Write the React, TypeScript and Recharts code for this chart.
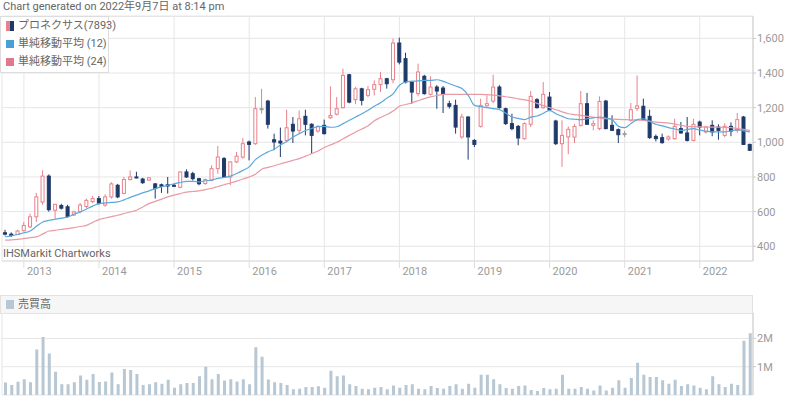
import React from 'react'
import { ComposedChart, Bar, Line, XAxis, YAxis, CartesianGrid } from 'recharts'

// monthly candles, Oct 2012 .. Sep 2022
const months: string[] = []
for (let k = 0; k < 120; k++) {
  const t = 2012 * 12 + 9 + k
  months.push(`${Math.floor(t / 12)}-${String((t % 12) + 1).padStart(2, '0')}`)
}

const yearTicks = ['2013-01', '2014-01', '2015-01', '2016-01', '2017-01', '2018-01', '2019-01', '2020-01', '2021-01', '2022-01']
const yearLabels = ['2013', '2014', '2015', '2016', '2017', '2018', '2019', '2020', '2021', '2022']
const priceTicks = [400, 600, 800, 1000, 1200, 1400, 1600]
const volTicks = [1000000, 2000000]

const open = [
  478, 470, 468, 490, 512, 570, 655, 805, 608, 635, 628, 580, 600, 630, 658, 675, 638, 685, 752, 705,
  785, 800, 788, 782, 760, 755, 755, 752, 740, 829, 819, 790, 762, 781, 848, 906, 800, 887, 915, 1002,
  992, 1194, 1238, 1015, 1007, 1011, 1104, 1069, 1150, 1104, 1065, 1098, 1142, 1162, 1200, 1390, 1246, 1309, 1271, 1306,
  1333, 1367, 1361, 1573, 1483, 1348, 1281, 1381, 1277, 1319, 1313, 1223, 1213, 1031, 1146, 1011, 1092, 1211, 1238, 1319,
  1194, 1108, 1092, 1021, 1104, 1246, 1200, 1261, 1123, 992, 1031, 1030, 1098, 1223, 1098, 1079, 1238, 1098, 1073, 1050,
  1127, 1196, 1208, 1150, 1034, 1027, 1019, 1021, 1079, 1054, 1011, 1117, 1060, 1098, 1088, 1040, 1092, 1069, 1146, 988,
]
const high = [
  495, 480, 495, 540, 588, 708, 838, 815, 645, 645, 640, 605, 650, 675, 690, 690, 700, 770, 760, 800,
  838, 830, 795, 800, 765, 762, 800, 760, 832, 844, 830, 795, 790, 867, 979, 915, 890, 944, 1025, 1010,
  1261, 1309, 1245, 1050, 1085, 1188, 1146, 1184, 1188, 1110, 1100, 1131, 1323, 1261, 1425, 1395, 1320, 1315, 1325, 1358,
  1405, 1372, 1598, 1604, 1517, 1355, 1454, 1390, 1381, 1330, 1325, 1240, 1246, 1165, 1150, 1018, 1252, 1271, 1390, 1330,
  1200, 1165, 1100, 1115, 1296, 1255, 1348, 1290, 1130, 1127, 1092, 1105, 1296, 1285, 1127, 1265, 1245, 1156, 1080, 1065,
  1227, 1386, 1252, 1188, 1045, 1050, 1040, 1136, 1117, 1146, 1136, 1125, 1095, 1127, 1104, 1110, 1115, 1169, 1152, 992,
]
const low = [
  462, 455, 465, 485, 505, 540, 640, 600, 556, 612, 565, 575, 590, 620, 650, 640, 628, 675, 678, 700,
  780, 792, 760, 778, 675, 708, 704, 745, 735, 795, 780, 752, 755, 775, 819, 795, 752, 880, 905, 896,
  985, 1165, 1079, 954, 915, 1000, 996, 1050, 1040, 935, 1055, 1045, 1135, 1155, 1195, 1225, 1220, 1213, 1260, 1270,
  1290, 1310, 1340, 1450, 1340, 1223, 1265, 1275, 1270, 1194, 1169, 1195, 1050, 1020, 900, 973, 1085, 1205, 1225, 1195,
  1100, 1070, 983, 1015, 1088, 1195, 1195, 1180, 985, 858, 931, 996, 1090, 1100, 1069, 1070, 1075, 1065, 996, 1030,
  1120, 1181, 1125, 1020, 1005, 992, 1010, 1015, 1050, 1005, 1005, 1040, 1050, 1035, 1015, 1030, 1035, 1055, 985, 950,
]
const close = [
  470, 462, 488, 520, 570, 685, 805, 611, 642, 620, 572, 598, 638, 665, 675, 648, 685, 760, 685, 785,
  800, 796, 767, 795, 733, 745, 748, 748, 829, 800, 790, 761, 785, 848, 915, 800, 887, 920, 992, 988,
  1194, 1194, 1104, 1002, 996, 1084, 1065, 1136, 1104, 1040, 1092, 1050, 1155, 1194, 1386, 1232, 1309, 1242, 1304, 1333,
  1367, 1338, 1573, 1463, 1348, 1290, 1406, 1281, 1319, 1296, 1281, 1208, 1088, 1146, 1031, 988, 1213, 1223, 1319, 1200,
  1108, 1079, 1025, 1108, 1265, 1200, 1277, 1188, 992, 1040, 1075, 1092, 1223, 1104, 1108, 1236, 1079, 1069, 1044, 1050,
  1188, 1210, 1131, 1027, 1021, 998, 1031, 1092, 1054, 1011, 1104, 1088, 1088, 1060, 1069, 1092, 1065, 1131, 988, 954,
]
const ma12 = [
  455, 460, 468, 478, 488, 515, 540, 550, 556, 562, 569, 585, 598, 615, 632, 646, 650, 653, 656, 668,
  682, 695, 708, 720, 733, 743, 752, 761, 768, 775, 775, 772, 778, 782, 792, 797, 805, 820, 838, 858,
  900, 925, 945, 960, 985, 1005, 1030, 1050, 1068, 1080, 1090, 1092, 1087, 1090, 1108, 1127, 1146, 1165, 1185, 1208,
  1228, 1255, 1280, 1329, 1348, 1352, 1355, 1357, 1358, 1361, 1352, 1338, 1325, 1310, 1271, 1213, 1206, 1200, 1194, 1188,
  1168, 1146, 1138, 1131, 1145, 1152, 1168, 1184, 1165, 1150, 1136, 1133, 1131, 1136, 1141, 1146, 1140, 1131, 1092, 1085,
  1108, 1131, 1136, 1120, 1104, 1095, 1085, 1077, 1069, 1074, 1079, 1070, 1065, 1060, 1060, 1060, 1066, 1073, 1066, 1060,
]
const ma24 = [
  435, 437, 440, 444, 450, 454, 470, 488, 492, 497, 502, 508, 514, 521, 538, 554, 563, 571, 579, 589,
  598, 608, 627, 646, 659, 672, 685, 695, 704, 713, 716, 720, 727, 735, 745, 755, 765, 776, 788, 800,
  816, 845, 855, 865, 876, 886, 896, 906, 920, 935, 950, 970, 985, 1000, 1020, 1040, 1060, 1077, 1095, 1125,
  1143, 1160, 1180, 1208, 1218, 1228, 1240, 1252, 1262, 1270, 1277, 1277, 1277, 1277, 1277, 1277, 1277, 1275, 1272, 1268,
  1263, 1258, 1251, 1245, 1238, 1225, 1212, 1200, 1188, 1176, 1165, 1160, 1156, 1150, 1145, 1140, 1136, 1134, 1132, 1131,
  1130, 1128, 1127, 1122, 1117, 1114, 1111, 1105, 1098, 1092, 1090, 1089, 1088, 1088, 1087, 1086, 1085, 1080, 1075, 1069,
]
// volume, millions of shares
const volume = [
  0.44, 0.35, 0.47, 0.56, 0.45, 1.61, 2.05, 1.47, 0.82, 0.38, 0.38, 0.45, 0.69, 0.54, 0.74, 0.46, 0.48, 0.8, 0.38, 0.92,
  0.88, 0.74, 0.35, 0.38, 0.45, 0.4, 0.54, 0.26, 0.38, 0.42, 0.42, 0.66, 1.0, 0.56, 0.74, 0.51, 0.56, 0.48, 0.56, 0.38,
  1.69, 1.35, 0.55, 0.45, 0.42, 0.35, 0.2, 0.22, 0.28, 0.28, 0.31, 0.26, 0.86, 0.66, 0.69, 0.38, 0.32, 0.22, 0.2, 0.26,
  0.28, 0.2, 0.34, 0.26, 0.35, 0.38, 0.22, 0.2, 0.32, 0.25, 0.22, 0.32, 0.38, 0.22, 0.4, 0.26, 0.72, 0.72, 0.56, 0.38,
  0.25, 0.22, 0.32, 0.34, 0.18, 0.14, 0.25, 0.2, 0.22, 0.72, 0.22, 0.22, 0.28, 0.22, 0.16, 0.34, 0.16, 0.26, 0.52, 0.26,
  0.6, 1.14, 0.72, 0.64, 0.64, 0.52, 0.4, 0.54, 0.32, 0.38, 0.34, 0.26, 0.2, 0.66, 0.38, 0.28, 0.4, 0.35, 1.92, 2.18,
]

const rows = months.map((m, i) => ({
  m,
  open: open[i],
  high: high[i],
  low: low[i],
  close: close[i],
  ma12: ma12[i],
  ma24: ma24[i],
  vol: volume[i] * 1000000,
}))

const UP = '#e8828a'
const DOWN = '#1e3a6a'
const FLAT = '#9e9e9e'
const GRID = '#e6e6e6'
const TXT = '#666'
const AXIS_TXT = '#9a9a9a'
const FONT = 'Roboto, "Noto Sans CJK JP", sans-serif'

const Candle = (props: any) => {
  const { x, y, width, height, payload } = props
  const { open: o, close: c, high: h, low: l } = payload
  const top = Math.min(y, y + height)
  const span = Math.abs(height)
  const k = span / (h - l)
  const bodyTop = top + (h - Math.max(o, c)) * k
  const bodyH = Math.max(1, Math.abs(o - c) * k)
  const cx = x + width / 2
  const up = c > o
  const col = c === o ? FLAT : up ? UP : DOWN
  return (
    <g>
      <line x1={cx} x2={cx} y1={top} y2={top + span} stroke={col} strokeWidth={1} />
      <rect x={x + 0.5} y={bodyTop} width={width - 1} height={bodyH} fill={up ? '#fff' : col} stroke={col} strokeWidth={1} />
    </g>
  )
}

const YearTick = (props: any) => {
  const { x, y, payload } = props
  const idx = yearTicks.indexOf(payload.value)
  return (
    <text x={x + 3} y={y - 3} dy="0.71em" fill={AXIS_TXT} fontSize={11} fontFamily={FONT}>
      {yearLabels[idx]}
    </text>
  )
}

const legendRow: React.CSSProperties = { position: 'absolute', left: 17, lineHeight: '16px', whiteSpace: 'nowrap' }

export default function App() {
  return (
    <div style={{ position: 'absolute', left: 0, top: 0, width: 800, height: 396, background: '#fff', fontFamily: FONT, overflow: 'hidden' }}>
      <div style={{ position: 'absolute', left: 3, top: 0, fontSize: 11, color: TXT, lineHeight: '14px', whiteSpace: 'nowrap' }}>
        Chart generated on 2022年9月7日 at 8:14 pm
      </div>

      <div style={{ position: 'absolute', left: 0, top: 16, width: 753, borderTop: `1px solid ${GRID}` }} />

      <div style={{ position: 'absolute', left: 0, top: 0 }}>
        <ComposedChart width={800} height={280} data={rows} margin={{ top: 16, right: 7, bottom: 5, left: 2 }}>
          <CartesianGrid stroke={GRID} />
          <XAxis
            dataKey="m"
            ticks={yearTicks}
            interval={0}
            height={14}
            tickSize={7}
            tickMargin={2}
            axisLine={{ stroke: '#ddd' }}
            tickLine={{ stroke: '#ddd' }}
            tick={<YearTick />}
          />
          <YAxis
            orientation="right"
            width={40}
            domain={[315, 1729]}
            allowDataOverflow
            ticks={priceTicks}
            tickSize={3}
            tickMargin={1}
            axisLine={{ stroke: '#ccc' }}
            tickLine={{ stroke: '#ccc' }}
            tick={{ fill: AXIS_TXT, fontSize: 11, fontFamily: FONT }}
            tickFormatter={(v: number) => v.toLocaleString('en-US')}
          />
          <Line dataKey="ma24" stroke="#e99aa5" strokeWidth={1.2} dot={false} type="monotone" isAnimationActive={false} />
          <Line dataKey="ma12" stroke="#5aa8dc" strokeWidth={1.2} dot={false} type="monotone" isAnimationActive={false} />
          <Bar dataKey={(d: any) => [d.low, d.high]} barSize={4} shape={<Candle />} isAnimationActive={false} />
        </ComposedChart>
      </div>

      <div
        style={{
          position: 'absolute', left: 0, top: 16, width: 109, height: 57, boxSizing: 'border-box',
          background: 'rgba(255,255,255,0.92)', border: '1px solid #ddd', fontSize: 11, color: TXT,
        }}
      >
        <div style={{ position: 'absolute', left: 5, top: 4, height: 10, display: 'flex' }}>
          <span style={{ width: 4, height: 10, background: UP }} />
          <span style={{ width: 4, height: 10, background: DOWN }} />
        </div>
        <div style={{ ...legendRow, top: 1 }}>プロネクサス(7893)</div>
        <div style={{ position: 'absolute', left: 5, top: 23, width: 8, height: 8, background: '#4a9fd5' }} />
        <div style={{ ...legendRow, top: 19 }}>単純移動平均 (12)</div>
        <div style={{ position: 'absolute', left: 5, top: 41, width: 8, height: 8, background: '#e07a8a' }} />
        <div style={{ ...legendRow, top: 37 }}>単純移動平均 (24)</div>
      </div>

      <div style={{ position: 'absolute', left: 3, top: 247, fontSize: 11, color: TXT, lineHeight: '14px', whiteSpace: 'nowrap' }}>IHSMarkit Chartworks</div>

      <div
        style={{
          position: 'absolute', left: 0, top: 295, width: 753, height: 19, boxSizing: 'border-box',
          background: '#f6f6f6', border: '1px solid #e2e2e2', fontSize: 11, color: TXT,
        }}
      >
        <div style={{ position: 'absolute', left: 5, top: 4, width: 8, height: 9, background: '#b7c7d3' }} />
        <div style={{ position: 'absolute', left: 17, top: 1, lineHeight: '15px' }}>売買高</div>
      </div>

      <div style={{ position: 'absolute', left: 0, top: 313 }}>
        <ComposedChart width={800} height={83} data={rows} margin={{ top: 0, right: 7, bottom: 1, left: 2 }}>
          <CartesianGrid stroke={GRID} />
          <XAxis dataKey="m" ticks={yearTicks} interval={0} height={0} tick={false} tickLine={false} axisLine={false} />
          <YAxis
            orientation="right"
            width={40}
            domain={[0, 2900000]}
            allowDataOverflow
            ticks={volTicks}
            tickSize={3}
            tickMargin={1}
            axisLine={{ stroke: '#ccc' }}
            tickLine={{ stroke: '#ccc' }}
            tick={{ fill: AXIS_TXT, fontSize: 11, fontFamily: FONT }}
            tickFormatter={(v: number) => `${v / 1000000}M`}
          />
          <Bar dataKey="vol" fill="#b7c7d3" barSize={3} isAnimationActive={false} />
        </ComposedChart>
      </div>
    </div>
  )
}
